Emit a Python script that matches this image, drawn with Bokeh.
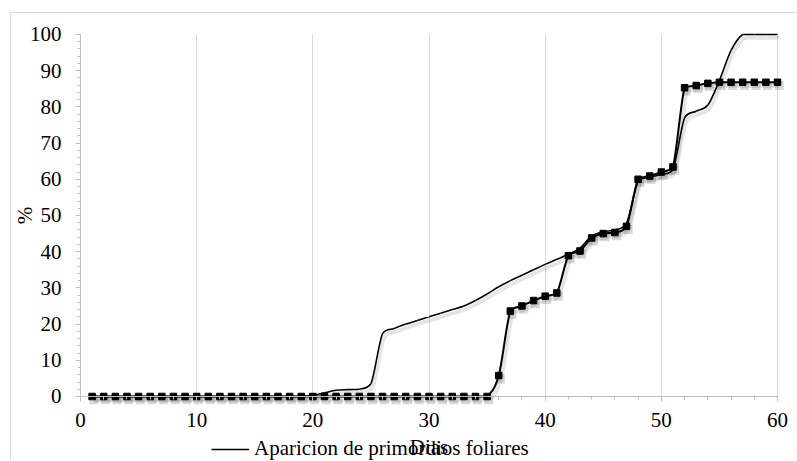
from bokeh.plotting import figure
from bokeh.embed import file_html
from bokeh.resources import INLINE
from bokeh.models import (SingleIntervalTicker, Range1d, Legend, LegendItem,
                          LinearAxis, ColumnDataSource, BoxAnnotation)

# ---------------- data ----------------
days = [1, 2, 3, 4, 5, 6, 7, 8, 9, 10, 11, 12, 13, 14, 15, 16, 17, 18, 19, 20,
        21, 22, 23, 24, 25, 26, 27, 28, 29, 30, 31, 32, 33, 34, 35, 36, 37, 38, 39, 40,
        41, 42, 43, 44, 45, 46, 47, 48, 49, 50, 51, 52, 53, 54, 55, 56, 57, 58, 59, 60]

# series drawn as a smoothed line without markers (in legend)
aparicion_primordios = [0, 0, 0, 0, 0, 0, 0, 0, 0, 0, 0, 0, 0, 0, 0, 0, 0, 0, 0, 0.3,
                        1.0, 1.7, 1.9, 2.0, 3.5, 17.4, 18.8, 20.0, 21.0, 22.0,
                        23.0, 24.0, 25.0, 26.5, 28.3, 30.3, 32.0, 33.5, 35.0, 36.5,
                        37.9, 39.3, 41.0, 44.3, 45.5, 46.0, 47.8, 59.5, 60.6, 61.3,
                        62.6, 77.0, 78.8, 80.5, 87.3, 95.6, 100, 100, 100, 100]

# series drawn as smoothed line with square markers
serie_marcadores = [0, 0, 0, 0, 0, 0, 0, 0, 0, 0, 0, 0, 0, 0, 0, 0, 0, 0, 0, 0,
                    0, 0, 0, 0, 0, 0, 0, 0, 0, 0, 0, 0, 0, 0, 0, 5.8, 23.6, 25.0, 26.5, 27.7,
                    28.6, 38.9, 40.2, 43.8, 45.0, 45.3, 47.0, 60.0, 60.9, 62.0,
                    63.4, 85.3, 85.9, 86.5, 86.8, 86.8, 86.8, 86.8, 86.8, 86.8]

legend_label = "Aparicion de primordios foliares"
x_title = "Dias"
y_title = "%"

FONT = "Liberation Serif"
FONT_SIZE = "21px"


def bezier_source(xs, ys, dx=0.0, dy=0.0):
    """Smoothed-line segments (Catmull-Rom control points, kept within each
    segment's vertical span so the curve does not overshoot)."""
    n = len(xs)
    d = dict(x0=[], y0=[], x1=[], y1=[], cx0=[], cy0=[], cx1=[], cy1=[])
    for i in range(n - 1):
        a = i - 1 if i > 0 else i
        b = i + 2 if i + 2 < n else i + 1
        lo, hi = min(ys[i], ys[i + 1]), max(ys[i], ys[i + 1])
        c0 = min(max(ys[i] + (ys[i + 1] - ys[a]) / 6, lo), hi)
        c1 = min(max(ys[i + 1] - (ys[b] - ys[i]) / 6, lo), hi)
        d["x0"].append(xs[i] + dx)
        d["y0"].append(ys[i] + dy)
        d["x1"].append(xs[i + 1] + dx)
        d["y1"].append(ys[i + 1] + dy)
        d["cx0"].append(xs[i] + (xs[i + 1] - xs[a]) / 6 + dx)
        d["cy0"].append(c0 + dy)
        d["cx1"].append(xs[i + 1] - (xs[b] - xs[i]) / 6 + dx)
        d["cy1"].append(c1 + dy)
    return ColumnDataSource(d)


# The frame covers the whole canvas so that tick labels and the legend row
# (drawn outside the data area in the original) are not clipped; both axes
# are pinned at 0.
p = figure(width=786, height=448, output_backend="svg", toolbar_location=None,
           x_range=Range1d(-5.94, 61.72), y_range=Range1d(-17.96, 105.8),
           min_border_left=0, min_border_right=0, min_border_top=0,
           min_border_bottom=0, x_axis_location=None, y_axis_location=None)
p.styles = {"margin-left": "10px", "margin-top": "12px",
            "border-left": "1px solid #d9d9d9", "border-top": "1px solid #d9d9d9"}
p.outline_line_color = None
p.background_fill_color = "white"
p.border_fill_color = "white"

# grids
p.xgrid.ticker = SingleIntervalTicker(interval=10)
p.xgrid.grid_line_color = "#d9d9d9"
p.xgrid.grid_line_width = 1
p.ygrid.grid_line_color = None
# hide grid lines outside the data area
p.add_layout(BoxAnnotation(top=0, fill_color="white", fill_alpha=1,
                           line_color=None, level="underlay"))
p.add_layout(BoxAnnotation(bottom=100, fill_color="white", fill_alpha=1,
                           line_color=None, level="underlay"))

# axes
xaxis = LinearAxis(ticker=SingleIntervalTicker(interval=10, num_minor_ticks=5),
                   fixed_location=0, bounds=(0, 60))
yaxis = LinearAxis(ticker=SingleIntervalTicker(interval=10, num_minor_ticks=5),
                   fixed_location=0, bounds=(0, 100))
for ax in (xaxis, yaxis):
    ax.axis_line_color = "#bfbfbf"
    ax.major_tick_line_color = "#bfbfbf"
    ax.minor_tick_line_color = "#bfbfbf"
    ax.major_tick_in = 0
    ax.major_tick_out = 5
    ax.minor_tick_in = 0
    ax.minor_tick_out = 3
    ax.major_label_text_font = FONT
    ax.major_label_text_font_size = FONT_SIZE
    ax.major_label_text_color = "black"
    ax.axis_label_text_font = FONT
    ax.axis_label_text_font_size = FONT_SIZE
    ax.axis_label_text_font_style = "normal"
    ax.axis_label_text_color = "black"
xaxis.major_label_standoff = 12
xaxis.axis_label = x_title
xaxis.axis_label_standoff = 4
yaxis.major_label_standoff = 14
yaxis.axis_label = y_title
yaxis.axis_label_standoff = -10
p.add_layout(xaxis, "below")
p.add_layout(yaxis, "left")

# shadows
sh_dx, sh_dy = 0.15, -0.9
p.bezier("x0", "y0", "x1", "y1", "cx0", "cy0", "cx1", "cy1",
         source=bezier_source(days, aparicion_primordios, sh_dx, sh_dy),
         line_color="black", line_alpha=0.1, line_width=4)
p.bezier("x0", "y0", "x1", "y1", "cx0", "cy0", "cx1", "cy1",
         source=bezier_source(days, serie_marcadores, sh_dx, sh_dy),
         line_color="black", line_alpha=0.1, line_width=5)
p.scatter([d + sh_dx for d in days], [v + sh_dy for v in serie_marcadores],
          marker="square", size=9, fill_color="black", fill_alpha=0.15,
          line_color=None)

# series
p.bezier("x0", "y0", "x1", "y1", "cx0", "cy0", "cx1", "cy1",
         source=bezier_source(days, aparicion_primordios),
         line_color="black", line_width=1.6)
p.bezier("x0", "y0", "x1", "y1", "cx0", "cy0", "cx1", "cy1",
         source=bezier_source(days, serie_marcadores),
         line_color="black", line_width=2)
p.scatter(days, serie_marcadores, marker="square", size=6.5,
          fill_color="black", line_color="black")

# legend row (a one-point line gives the legend its line sample)
legend_line = p.line(days[:1], aparicion_primordios[:1], line_color="black",
                     line_width=1.6)
legend = Legend(items=[LegendItem(label=legend_label, renderers=[legend_line])],
                location=(200, 0), orientation="horizontal",
                border_line_color=None, background_fill_alpha=0,
                padding=0, margin=0, glyph_width=38, label_standoff=5,
                label_text_font=FONT, label_text_font_size=FONT_SIZE,
                label_text_color="black")
p.add_layout(legend, "center")

open("out.html", "w").write(file_html(p, INLINE))
